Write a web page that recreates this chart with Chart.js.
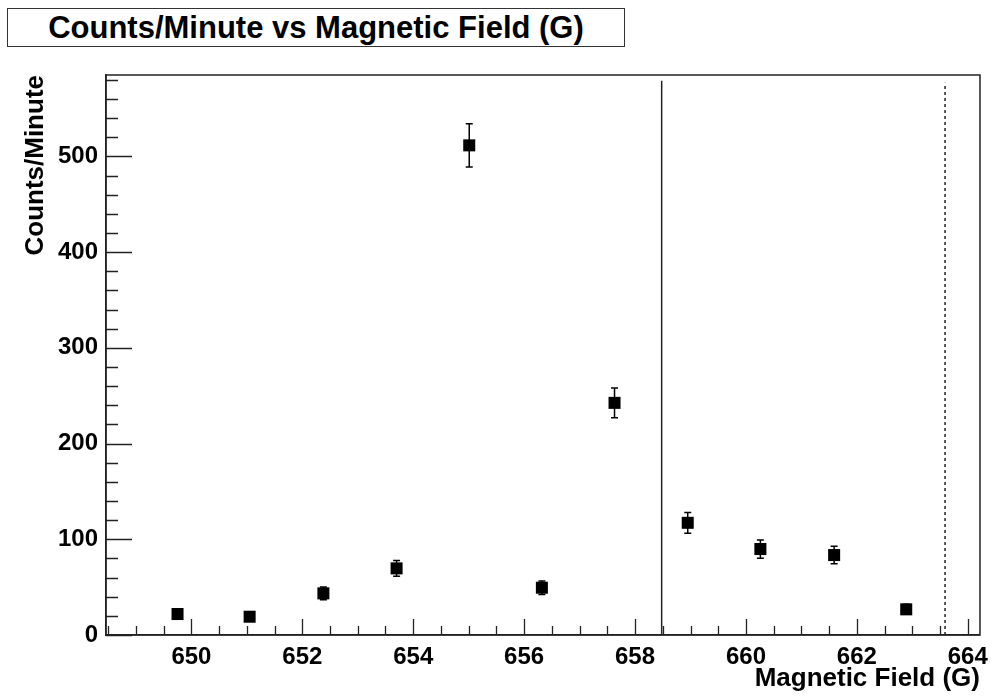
<!DOCTYPE html>
<html>
<head>
<meta charset="utf-8">
<script src="https://cdn.jsdelivr.net/npm/chart.js@4/dist/chart.umd.min.js"></script>
<style>
  body { margin: 0; background: #fff; }
  #wrap { position: relative; width: 996px; height: 698px; }
  #judul {
    position: absolute; left: 7px; top: 8px; width: 616px; height: 37px;
    border: 1.5px solid #333; background: #fff;
    font: bold 31px "Liberation Sans", Arial, sans-serif; color: #000;
    text-align: center; line-height: 38px;
  }
</style>
</head>
<body>
<div id="wrap">
  <canvas id="grafik" width="996" height="698"></canvas>
  <div id="judul">Counts/Minute vs Magnetic Field (G)</div>
</div>
<script>
// data titik (medan magnet vs cacah per menit)
const medan = [649.75, 651.05, 652.38, 653.70, 655.01, 656.32, 657.63, 658.95, 660.26, 661.59, 662.89];
const cacah = [21.9, 19.1, 43.5, 69.6, 511.5, 49.4, 242.5, 117.2, 89.8, 83.5, 26.8];
const galat = [4.7, 4.4, 6.6, 8.3, 22.5, 7.0, 15.6, 10.8, 9.5, 9.1, 5.2];

// garis vertikal
const garisTegas = 658.48;
const garisPutus = 663.59;
const puncakGaris = [579, 577];

const xMin = 648.46, xMax = 664.22;
const yMin = 0, yMax = 585;

const fontUtama = '"Liberation Sans", Arial, sans-serif';

// plugin: error bar, tick ke dalam, bingkai
const pluginRoot = {
    id: 'pluginRoot',
    afterDatasetsDraw(chart) {
        const ctx = chart.ctx;
        const sx = chart.scales.x;
        const sy = chart.scales.y;
        ctx.save();
        ctx.strokeStyle = '#000';
        ctx.lineWidth = 1.5;
        medan.forEach((m, i) => {
            const px = sx.getPixelForValue(m);
            const atas = sy.getPixelForValue(cacah[i] + galat[i]);
            const bawah = sy.getPixelForValue(cacah[i] - galat[i]);
            ctx.beginPath();
            ctx.moveTo(px, atas);
            ctx.lineTo(px, bawah);
            ctx.moveTo(px - 3.5, atas);
            ctx.lineTo(px + 3.5, atas);
            ctx.moveTo(px - 3.5, bawah);
            ctx.lineTo(px + 3.5, bawah);
            ctx.stroke();
        });
        ctx.restore();
    },
    afterDraw(chart) {
        const ctx = chart.ctx;
        const area = chart.chartArea;
        const sx = chart.scales.x;
        const sy = chart.scales.y;
        ctx.save();
        ctx.strokeStyle = '#222';
        ctx.lineWidth = 1.5;
        ctx.strokeRect(area.left, area.top, area.right - area.left, area.bottom - area.top);

        ctx.lineWidth = 1.3;
        ctx.beginPath();
        // tick sumbu y
        for (let v = 0; v <= yMax; v += 20) {
            const py = Math.round(sy.getPixelForValue(v)) + 0.5;
            const panjang = (v % 100 === 0) ? 26 : 12;
            ctx.moveTo(area.left, py);
            ctx.lineTo(area.left + panjang, py);
        }
        // tick sumbu x
        for (let v = 648.5; v <= xMax; v += 0.5) {
            const px = Math.round(sx.getPixelForValue(v)) + 0.5;
            const panjang = (Math.abs(v % 2) < 0.01) ? 16 : 9;
            ctx.moveTo(px, area.bottom);
            ctx.lineTo(px, area.bottom - panjang);
        }
        ctx.stroke();
        ctx.restore();
    }
};

const dataTitik = medan.map((m, i) => ({ x: m, y: cacah[i] }));

const config = {
    type: 'scatter',
    data: {
        datasets: [
            {
                label: 'Counts/Minute',
                data: dataTitik,
                backgroundColor: '#000',
                borderColor: '#000',
                pointStyle: 'rect',
                pointRadius: 8.5,
                pointBorderWidth: 0,
                pointHoverRadius: 8.5
            },
            {
                label: 'garis',
                type: 'line',
                data: [{ x: garisTegas, y: 0 }, { x: garisTegas, y: puncakGaris[0] }],
                borderColor: '#222',
                borderWidth: 1.5,
                pointRadius: 0,
                showLine: true
            },
            {
                label: 'garis putus',
                type: 'line',
                data: [{ x: garisPutus, y: 0 }, { x: garisPutus, y: puncakGaris[1] }],
                borderColor: '#222',
                borderWidth: 1.5,
                borderDash: [3, 3],
                pointRadius: 0,
                showLine: true
            }
        ]
    },
    options: {
        responsive: false,
        animation: false,
        events: [],
        layout: { padding: { left: 0, top: 75, right: 14, bottom: 0 } },
        plugins: {
            legend: { display: false },
            tooltip: { enabled: false }
        },
        scales: {
            x: {
                type: 'linear',
                min: xMin,
                max: xMax,
                afterFit: function(scale) { scale.height = 63; },
                grid: { display: false, drawTicks: false },
                border: { display: true, color: '#222', width: 1.5 },
                ticks: {
                    stepSize: 2,
                    includeBounds: false,
                    padding: 8,
                    color: '#000',
                    font: { family: fontUtama, size: 24, weight: 'bold' },
                    maxRotation: 0
                },
                title: {
                    display: true,
                    text: 'Magnetic Field (G)',
                    align: 'end',
                    color: '#000',
                    font: { family: fontUtama, size: 26, weight: 'bold' },
                    padding: { top: 0, bottom: 4 }
                }
            },
            y: {
                min: yMin,
                max: yMax,
                afterFit: function(scale) { scale.width = 106; },
                grid: { display: false, drawTicks: false },
                border: { display: true, color: '#222', width: 1.5 },
                ticks: {
                    stepSize: 100,
                    includeBounds: false,
                    padding: 8,
                    color: '#000',
                    font: { family: fontUtama, size: 24, weight: 'bold' }
                },
                title: {
                    display: true,
                    text: 'Counts/Minute',
                    align: 'end',
                    color: '#000',
                    font: { family: fontUtama, size: 26, weight: 'bold' },
                    padding: { top: 20, bottom: 0 }
                }
            }
        }
    },
    plugins: [pluginRoot]
};

const myChart = new Chart(document.getElementById('grafik'), config);
</script>
</body>
</html>
